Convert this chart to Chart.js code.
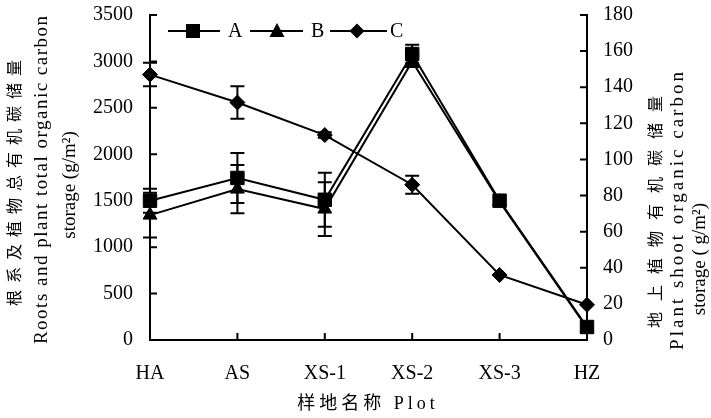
<!DOCTYPE html>
<html>
<head>
<meta charset="utf-8">
<script src="https://cdn.jsdelivr.net/npm/chart.js@4/dist/chart.umd.min.js"></script>
<style>
  body { margin: 0; background: #fff; }
  #wrap { width: 711px; height: 418px; position: relative; }
</style>
</head>
<body>
<div id="wrap"><canvas id="chart"></canvas></div>
<script>
// values
const plots = ["HA", "AS", "XS-1", "XS-2", "XS-3", "HZ"];
const valuesA = [1500, 1745, 1510, 3080, 1500, 140];
const valuesB = [1345, 1625, 1410, 3000, 1490, 130];
const valuesC = [147, 131.5, 113.5, 86, 36, 19.5];
const errorsA = [130, 270, 290, 100, 0, 0];
const errorsB = [240, 260, 290, 60, 0, 0];
const errorsC = [6.5, 9, 1.5, 5, 0, 0];
const seriesNames = ["A", "B", "C"];

const SERIF = "'Liberation Serif', 'Noto Sans CJK SC', serif";
const CJK = "'Noto Sans CJK SC', 'Liberation Serif', serif";

function drawMarker(ctx, style, x, y) {
    ctx.beginPath();
    if (style === "rect") {
        ctx.rect(x - 7, y - 7, 14, 14);
    } else if (style === "triangle") {
        ctx.moveTo(x, y - 8);
        ctx.lineTo(x + 7.5, y + 6);
        ctx.lineTo(x - 7.5, y + 6);
        ctx.closePath();
    } else {
        ctx.moveTo(x, y - 7.5);
        ctx.lineTo(x + 7.5, y);
        ctx.lineTo(x, y + 7.5);
        ctx.lineTo(x - 7.5, y);
        ctx.closePath();
    }
    ctx.fill();
}

// error bars, drawn through the scales
const errorBars = {
    id: "errorBars",
    afterDatasetsDraw(chart) {
        const ctx = chart.ctx;
        const errs = [errorsA, errorsB, errorsC];
        ctx.save();
        ctx.strokeStyle = "#000";
        ctx.lineWidth = 2;
        chart.data.datasets.forEach((ds, i) => {
            const meta = chart.getDatasetMeta(i);
            const scale = chart.scales[ds.yAxisID];
            meta.data.forEach((pt, j) => {
                const e = errs[i][j];
                if (!e) return;
                const top = scale.getPixelForValue(ds.data[j] + e);
                const bot = scale.getPixelForValue(ds.data[j] - e);
                ctx.beginPath();
                ctx.moveTo(pt.x, top); ctx.lineTo(pt.x, bot);
                ctx.moveTo(pt.x - 7, top); ctx.lineTo(pt.x + 7, top);
                ctx.moveTo(pt.x - 7, bot); ctx.lineTo(pt.x + 7, bot);
                ctx.stroke();
            });
        });
        ctx.restore();
    }
};

// inward tick marks, titles and legend
const decorations = {
    id: "decorations",
    afterDraw(chart) {
        const ctx = chart.ctx;
        const { y, y1, x } = chart.scales;
        const area = chart.chartArea;
        ctx.save();
        ctx.strokeStyle = "#000";
        ctx.fillStyle = "#000";
        ctx.lineWidth = 2;
        ctx.beginPath();
        y.ticks.forEach(t => {
            const py = y.getPixelForValue(t.value);
            ctx.moveTo(area.left, py); ctx.lineTo(area.left + 7, py);
        });
        y1.ticks.forEach(t => {
            const py = y1.getPixelForValue(t.value);
            ctx.moveTo(area.right - 7, py); ctx.lineTo(area.right, py);
        });
        plots.forEach((p, i) => {
            const px = x.getPixelForValue(i);
            ctx.moveTo(px, area.bottom); ctx.lineTo(px, area.bottom - 7);
        });
        ctx.stroke();

        // axis titles
        const vText = (txt, cx, cy, font, spacing) => {
            ctx.save();
            ctx.translate(cx, cy);
            ctx.rotate(-Math.PI / 2);
            ctx.font = font;
            ctx.letterSpacing = spacing + "px";
            ctx.textAlign = "center";
            ctx.textBaseline = "middle";
            ctx.fillText(txt, spacing / 2, 0);
            ctx.restore();
        };
        vText("根系及植物总有机碳储量", 14, 183, "16px " + CJK, 7);
        vText("Roots and plant total organic carbon", 42, 180, "19px " + SERIF, 1.5);
        vText("storage (g/m²)", 70, 185, "19px " + SERIF, 0);
        vText("地上植物有机碳储量", 655, 212, "16px " + CJK, 11);
        vText("Plant shoot organic carbon", 678, 211, "19px " + SERIF, 3);
        vText("storage ( g/m²)", 700, 259, "19px " + SERIF, 0);

        ctx.font = "18px " + SERIF;
        ctx.letterSpacing = "4px";
        ctx.textAlign = "center";
        ctx.textBaseline = "middle";
        ctx.fillText("样地名称 Plot", 368, 404);
        ctx.letterSpacing = "0px";

        // legend inside the plot
        const legend = [
            { x0: 168, x1: 220, mx: 193, tx: 228, style: "rect" },
            { x0: 250, x1: 303, mx: 277, tx: 311, style: "triangle" },
            { x0: 330, x1: 387, mx: 357, tx: 390, style: "rectRot" }
        ];
        ctx.font = "20px " + SERIF;
        ctx.textAlign = "left";
        legend.forEach((l, i) => {
            ctx.beginPath();
            ctx.moveTo(l.x0, 31); ctx.lineTo(l.x1, 31);
            ctx.stroke();
            drawMarker(ctx, l.style, l.mx, 31);
            ctx.fillText(seriesNames[i], l.tx, 32);
        });
        ctx.restore();
    }
};

function makeSet(label, data, axis, style, radius) {
    return {
        label: label,
        data: data,
        yAxisID: axis,
        borderColor: "#000",
        backgroundColor: "#000",
        borderWidth: 2,
        pointStyle: style,
        pointRadius: radius,
        pointBorderWidth: 1,
        pointBackgroundColor: "#000",
        pointBorderColor: "#000",
        tension: 0
    };
}

new Chart(document.getElementById("chart"), {
    type: "line",
    data: {
        labels: plots,
        datasets: [
            makeSet("A", valuesA, "y", "rect", 9.5),
            makeSet("B", valuesB, "y", "triangle", 8),
            makeSet("C", valuesC, "y1", "rectRot", 7.5)
        ]
    },
    options: {
        responsive: true,
        maintainAspectRatio: false,
        animation: false,
        layout: { padding: { top: 15, left: 0, right: 0, bottom: 0 } },
        plugins: { legend: { display: false }, tooltip: { enabled: false } },
        scales: {
            x: {
                offset: false,
                grid: { display: true, drawOnChartArea: false, drawTicks: false },
                border: { display: true, color: "#000", width: 2 },
                ticks: { color: "#000", padding: 22, font: { family: SERIF, size: 20 }, maxRotation: 0 },
                afterFit: s => { s.height = 78; s.paddingLeft = 0; s.paddingRight = 0; }
            },
            y: {
                position: "left",
                min: 0, max: 3500,
                grid: { display: true, drawOnChartArea: false, drawTicks: false },
                border: { display: true, color: "#000", width: 2 },
                ticks: { stepSize: 500, color: "#000", padding: 17, font: { family: SERIF, size: 20 }, callback: v => String(v) },
                afterFit: s => { s.width = 150; s.paddingTop = 0; s.paddingBottom = 0; }
            },
            y1: {
                position: "right",
                min: 0, max: 180,
                grid: { display: true, drawOnChartArea: false, drawTicks: false },
                border: { display: true, color: "#000", width: 2 },
                ticks: { stepSize: 20, color: "#000", padding: 16, font: { family: SERIF, size: 20 }, callback: v => String(v) },
                afterFit: s => { s.width = 124; s.paddingTop = 0; s.paddingBottom = 0; }
            }
        }
    },
    plugins: [errorBars, decorations]
});
</script>
</body>
</html>
